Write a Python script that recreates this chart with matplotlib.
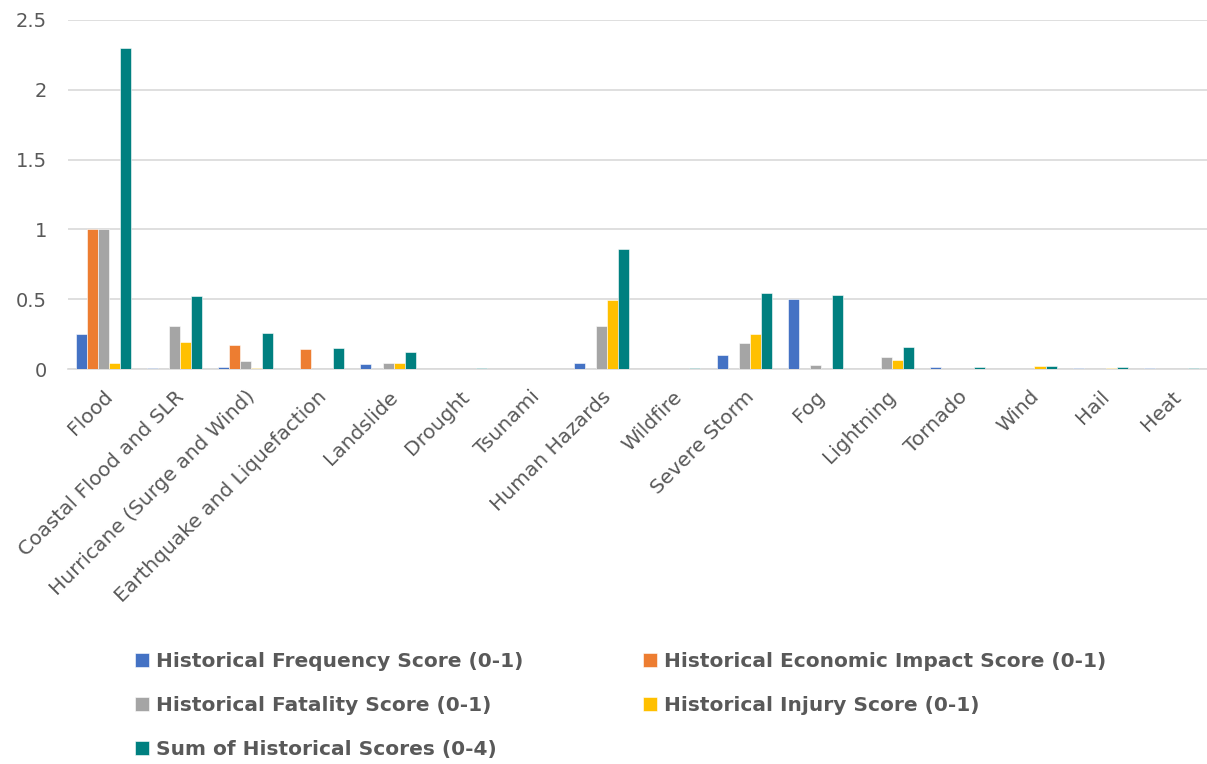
import matplotlib
matplotlib.use("Agg")
import matplotlib.pyplot as plt
import numpy as np

categories = ["Flood", "Coastal Flood and SLR", "Hurricane (Surge and Wind)",
              "Earthquake and Liquefaction", "Landslide", "Drought", "Tsunami",
              "Human Hazards", "Wildfire", "Severe Storm", "Fog", "Lightning",
              "Tornado", "Wind", "Hail", "Heat"]
freq   = [0.25, 0.008, 0.012, 0.002, 0.034, 0.002, 0.0, 0.043, 0.002, 0.098, 0.50, 0.002, 0.014, 0.002, 0.004, 0.008]
econ   = [1.0, 0.001, 0.172, 0.146, 0.002, 0.002, 0.0, 0.002, 0.002, 0.002, 0.0, 0.002, 0.002, 0.002, 0.002, 0.0]
fatal  = [1.0, 0.31, 0.055, 0.0, 0.041, 0.0, 0.0, 0.31, 0.0, 0.184, 0.026, 0.086, 0.0, 0.0, 0.0, 0.0]
injury = [0.045, 0.196, 0.01, 0.0, 0.043, 0.0, 0.0, 0.497, 0.0, 0.253, 0.0, 0.067, 0.0, 0.021, 0.008, 0.0]
total  = [2.295, 0.523, 0.255, 0.148, 0.12, 0.004, 0.0, 0.86, 0.005, 0.542, 0.528, 0.155, 0.016, 0.024, 0.014, 0.008]
series_names = ["Historical Frequency Score (0-1)", "Historical Economic Impact Score (0-1)",
                "Historical Fatality Score (0-1)", "Historical Injury Score (0-1)",
                "Sum of Historical Scores (0-4)"]
colors = ["#4472C4", "#ED7D31", "#A5A5A5", "#FFC000", "#008080"]
yticks = [0, 0.5, 1, 1.5, 2, 2.5]
ytick_labels = ["0", "0.5", "1", "1.5", "2", "2.5"]

plt.rcParams['font.family'] = ['DejaVu Sans']

fig = plt.figure(figsize=(12.07, 7.64), dpi=100)
ax = fig.add_axes([0.056, 0.517, 0.944, 0.457])

x = np.arange(len(categories))
w = 0.155
handles = []
for i, (vals, name, c) in enumerate(zip([freq, econ, fatal, injury, total], series_names, colors)):
    h = ax.bar(x + (i - 2) * w, vals, w, color=c, label=name, edgecolor='white', linewidth=0.4, zorder=3)
    handles.append(h)

ax.set_xlim(-0.5, len(categories) - 0.5)
ax.set_ylim(0, 2.5)
ax.set_yticks(yticks)
ax.set_yticklabels(ytick_labels, fontsize=14, color='#595959')
ax.yaxis.grid(True, color='#D9D9D9', linewidth=1.2, zorder=0)
ax.set_axisbelow(True)
ax.set_xticks(x)
ax.set_xticklabels(categories, rotation=45, ha='right', rotation_mode='anchor',
                   fontsize=14.5, color='#595959')
ax.tick_params(axis='both', length=0)
ax.tick_params(axis='x', pad=13)
ax.tick_params(axis='y', pad=15)
for s in ['top', 'right', 'left']:
    ax.spines[s].set_visible(False)
ax.spines['bottom'].set_color('#D9D9D9')
ax.spines['bottom'].set_linewidth(1.2)

order = [0, 2, 4, 1, 3]
leg = fig.legend([handles[i] for i in order], [series_names[i] for i in order],
                 ncol=2, loc='upper left', bbox_to_anchor=(0.112, 0.147),
                 frameon=False, prop={'weight': 'bold', 'size': 14.5},
                 handlelength=0.7, handleheight=0.7, handletextpad=0.35,
                 columnspacing=5.9, labelspacing=1.25, labelcolor='#595959',
                 borderaxespad=0, borderpad=0)

fig.savefig("out.png", dpi=100)
